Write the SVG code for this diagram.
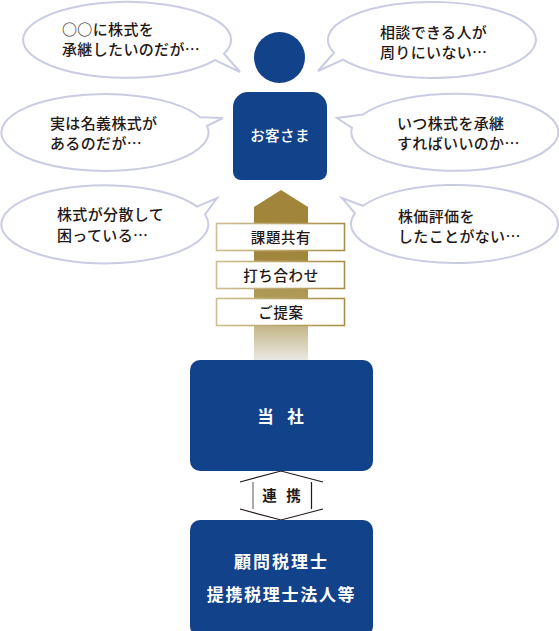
<svg xmlns="http://www.w3.org/2000/svg" width="559" height="631" viewBox="0 0 559 631">
<style>
text{font-family:"Noto Sans CJK JP","Noto Sans",sans-serif}
.b{fill:#fff;stroke:#c9cce3;stroke-width:2;stroke-linejoin:miter}
.t{font-size:15px;letter-spacing:.35px;fill:#231815;font-weight:500}
.l{font-size:14.500px;letter-spacing:.6px;fill:#231815;text-anchor:middle;font-weight:500}
.n{fill:#12428a}
.w{fill:#fff;text-anchor:middle;font-weight:700}
.r{fill:#fff;stroke:url(#sg);stroke-width:1.6}
</style>
<defs>
<linearGradient id="ag" gradientUnits="userSpaceOnUse" x1="0" y1="190" x2="0" y2="360"><stop offset="0" stop-color="#a0853a"/><stop offset=".38" stop-color="#a0853a"/><stop offset=".72" stop-color="#b5a264"/><stop offset="1" stop-color="#eae8e2"/></linearGradient>
<linearGradient id="sg" gradientUnits="userSpaceOnUse" x1="216" y1="0" x2="345" y2="0"><stop offset="0" stop-color="#cdbf94"/><stop offset="1" stop-color="#a88e46"/></linearGradient>
</defs>
<g id="connectors">
<path id="arrow" d="M254 207L281 190L308 207V360H254Z" fill="url(#ag)"/>
<g fill="none" stroke-width="1.2">
<path d="M240 482L281 471L323 482" stroke="#231815"/>
<path d="M240 509L281 520L323 509" stroke="#231815"/>
<path d="M253 482V509" stroke="#888" stroke-width="1.4"/>
<path d="M311.500 482V509" stroke="#231815"/>
</g>
</g>
<g id="bubble-1"><path class="b" d="M215 60.200L240 72L224 53.700A104 38 0 1 0 215 60.200Z"/><text class="t" x="62" y="35">○○に株式を</text><text class="t" x="62" y="55">承継したいのだが…</text></g>
<g id="bubble-2"><path class="b" d="M200 117.200L223 118L207 126A103.500 38.500 0 1 1 200 117.200Z"/><text class="t" x="50" y="129">実は名義株式が</text><text class="t" x="50" y="149">あるのだが…</text></g>
<g id="bubble-3"><path class="b" d="M197 206.600L217 198L205 214.500A103.500 39 0 1 1 197 206.600Z"/><text class="t" x="57" y="220">株式が分散して</text><text class="t" x="57" y="241">困っている…</text></g>
<g id="bubble-4"><path class="b" d="M343 59.600L318 71L334 52.700A104 38 0 1 1 343 59.600Z"/><text class="t" x="380" y="37.500">相談できる人が</text><text class="t" x="380" y="58">周りにいない…</text></g>
<g id="bubble-5"><path class="b" d="M363 114.500L337 118L352 127.900A103.500 38.500 0 1 0 363 114.500Z"/><text class="t" x="397" y="128.500">いつ株式を承継</text><text class="t" x="397" y="149">すればいいのか…</text></g>
<g id="bubble-6"><path class="b" d="M363 205.800L342 198L355 213.300A103.500 39 0 1 0 363 205.800Z"/><text class="t" x="398" y="221.500">株価評価を</text><text class="t" x="398" y="242">したことがない…</text></g>
<g id="customer"><circle class="n" cx="279.500" cy="57.500" r="25.500"/><path class="n" d="M248 92H312A15 15 0 0 1 327 107V172A8 8 0 0 1 319 180H241A8 8 0 0 1 233 172V107A15 15 0 0 1 248 92Z"/><text class="w" x="280" y="141" font-size="14.500" letter-spacing=".4" style="font-weight:500">お客さま</text></g>
<g id="step-1"><rect class="r" x="216.500" y="223.500" width="128" height="27"/><text class="l" x="281" y="243">課題共有</text></g>
<g id="step-2"><rect class="r" x="216.500" y="261.500" width="128" height="27"/><text class="l" x="281" y="281">打ち合わせ</text></g>
<g id="step-3"><rect class="r" x="216.500" y="298.500" width="128" height="27"/><text class="l" x="281" y="318">ご提案</text></g>
<g id="company"><rect class="n" x="190" y="360" width="183" height="111" rx="10"/><text class="w" x="280.500" y="423" font-size="16.500" word-spacing="10">当 社</text></g>
<g id="partnership"><text x="281.500" y="501" font-size="14.500" font-weight="700" fill="#231815" text-anchor="middle" word-spacing="6">連 携</text></g>
<g id="partners"><rect class="n" x="190" y="520" width="183" height="116" rx="10"/><text class="w" x="281.500" y="568" font-size="17" letter-spacing="2">顧問税理士</text><text class="w" x="281.500" y="601" font-size="17" letter-spacing="1.700">提携税理士法人等</text></g>
</svg>
